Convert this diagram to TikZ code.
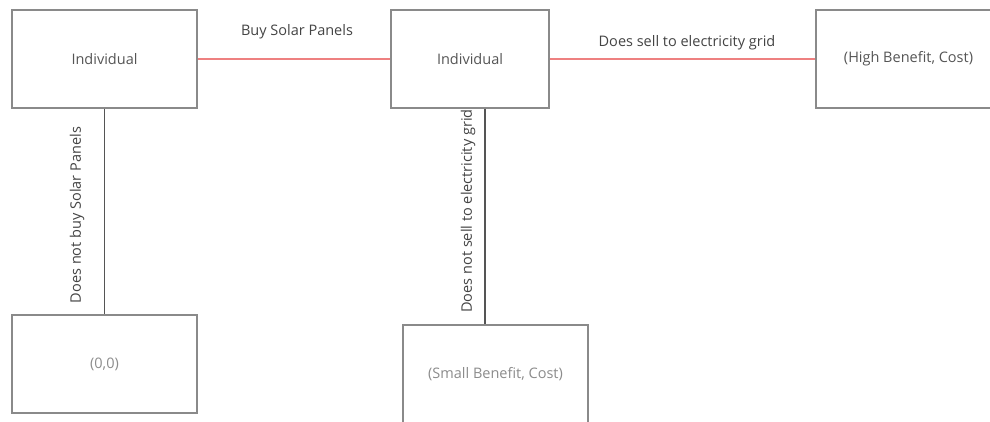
\documentclass[tikz,border=0pt]{standalone}
\usepackage{fontspec}
\setmainfont{Open Sans}
\definecolor{boxgray}{HTML}{8A8A8A}
\definecolor{txtgray}{HTML}{555555}
\definecolor{lightgray}{HTML}{8C8C8C}
\definecolor{lblgray}{HTML}{444444}
\definecolor{redline}{HTML}{EE8080}
\definecolor{vline}{HTML}{555555}
\begin{document}
\begin{tikzpicture}[x=1pt,y=-1pt,
  box/.style={draw=boxgray,line width=1.4pt,minimum width=185pt,minimum height=98pt,inner sep=0pt,
    font=\fontsize{14.5}{17}\selectfont,text=txtgray},
  pale/.style={text=lightgray},
  lbl/.style={font=\fontsize{14.5}{17}\selectfont,text=lblgray,inner sep=0pt},
  rededge/.style={draw=redline,line width=1.3pt},
  grayedge/.style={draw=vline,line width=1.5pt}
]
\useasboundingbox (0,0) rectangle (990,421);
\clip (0,0) rectangle (990,421);
\fill[white] (0,0) rectangle (990,421);

\node[box] (b1) at (104.5,59) {Individual};
\node[box,minimum width=158pt] (b2) at (470,59) {Individual};
\node[box] (b3) at (908.5,59) {(High Benefit, Cost)};
\node[box,pale] (b4) at (104.5,364) {(0,0)};
\node[box,pale] (b5) at (495.5,374) {(Small Benefit, Cost)};

\coordinate (v2) at (485,0);

\draw[rededge] (b1.east) -- (b2.west);
\draw[rededge] (b2.east) -- (b3.west);
\draw[grayedge] (b1.south) -- (b4.north);
\draw[grayedge] (b2.south -| v2) -- (b5.north -| v2);

\node[lbl] (l1) at (297,32) {Buy Solar Panels};
\node[lbl] (l2) at (687,43) {Does sell to electricity grid};
\node[lbl,rotate=90] (l3) at (77,215) {Does not buy Solar Panels};
\node[lbl,rotate=90] (l4) at (468,211) {Does not sell to electricity grid};
\end{tikzpicture}
\end{document}
